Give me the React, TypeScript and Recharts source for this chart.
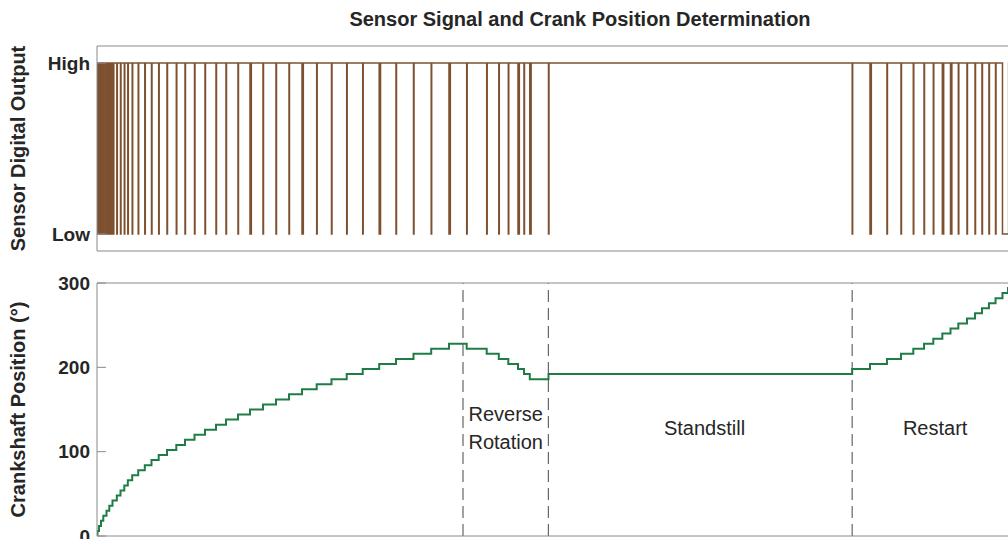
import React from 'react';
import { LineChart, Line, XAxis, YAxis, ReferenceLine, ReferenceDot } from 'recharts';

// ---- data (time in ms) ----
const timeDomain: [number, number] = [0, 750];
const timeTicksMs = [0, 100, 200, 300, 400, 500, 600, 700];

const sensorTickValues = [0, 1];
const sensorTickLabels = ['Low', 'High'];
const angleTicks = [0, 100, 200, 300];

// falling edge of each sensor pulse (ms) and how long the signal stays Low (ms)
const pulseStartMs = [
  0.25, 2.3, 4.34, 6.39, 8.44, 10.49, 12.54, 16.23, 19.26, 22.38,
  25.25, 28.85, 33.77, 39.18, 44.67, 50.57, 57.38, 65.0, 72.13, 79.92,
  88.52, 97.54, 105.74, 115.57, 125.41, 136.07, 146.72, 157.38, 168.03, 180.08,
  192.21, 204.67, 217.79, 231.31, 245.08, 259.43, 273.93, 288.52, 303.03, 319.43,
  329.34, 337.13, 345.08, 350.0, 354.75, 370.08, 619.0, 633.6, 647.5, 659.0,
  669.1, 677.9, 685.5, 692.9, 699.6, 706.0, 713.1, 719.7, 725.4, 731.1,
  736.5, 742.2,
];
const pulseWidthMs = [
  1.25, 1.25, 1.25, 1.25, 1.25, 1.25, 1.25, 0.4, 0.4, 0.4,
  0.4, 0.4, 0.4, 0.4, 0.4, 0.4, 0.4, 0.4, 0.4, 0.4,
  0.4, 0.4, 0.4, 0.4, 1.1, 0.4, 0.4, 0.4, 1.1, 0.4,
  0.4, 0.4, 0.4, 1.1, 0.4, 0.4, 0.4, 1.1, 0.4, 0.4,
  0.4, 0.4, 1.1, 0.4, 1.1, 0.4, 0.4, 1.1, 0.4, 0.4,
  0.4, 0.4, 0.4, 1.1, 1.1, 0.4, 0.4, 0.4, 0.4, 0.4,
  0.4, 5.0,
];

// crankshaft position staircase
const stepTimesMs = [
  0, 0.41, 1.64, 3.28, 5.16, 7.79, 10.08, 12.7, 16.23, 19.26,
  22.38, 25.25, 28.85, 33.77, 39.18, 44.67, 50.57, 57.38, 65.0, 72.13,
  79.92, 88.52, 97.54, 105.74, 115.57, 125.41, 136.07, 146.72, 157.38, 168.03,
  180.08, 192.21, 204.67, 217.79, 231.31, 245.08, 259.43, 273.93, 288.52, 303.03,
  319.43, 329.34, 337.13, 345.08, 350.0, 354.75, 370.08, 619.0, 633.6, 647.5,
  659.0, 669.1, 677.9, 685.5, 692.9, 699.6, 706.0, 713.1, 719.7, 725.4,
  731.1, 736.5, 742.2, 746.7, 750,
];
const stepAngleDeg = [
  0, 6, 12, 18, 24, 30, 36, 42, 48, 54,
  60, 66, 72, 78, 84, 90, 96, 102, 108, 114,
  120, 126, 132, 138, 144, 150, 156, 162, 168, 174,
  180, 186, 192, 198, 204, 210, 216, 222, 228, 222,
  216, 210, 204, 198, 192, 186, 192, 198, 204, 210,
  216, 222, 228, 234, 240, 246, 252, 258, 264, 270,
  276, 282, 288, 294, 294,
];

const phaseBoundaryMs = [300, 370, 619];
const phaseLabelText = [['Reverse', 'Rotation'], ['Standstill'], ['Restart']];
const phaseLabelMs = [335, 498, 687];
const phaseLabelDeg = [128, 128, 128];

const titleText = 'Sensor Signal and Crank Position Determination';
const sensorAxisTitle = 'Sensor Digital Output';
const angleAxisTitle = 'Crankshaft Position (°)';

// ---- derived tables ----
const sensorData: { t: number; v: number }[] = [{ t: timeDomain[0], v: 1 }];
pulseStartMs.forEach((s, i) => {
  const e = s + pulseWidthMs[i];
  sensorData.push({ t: s, v: 1 }, { t: s, v: 0 }, { t: e, v: 0 }, { t: e, v: 1 });
});
sensorData.push({ t: timeDomain[1], v: 1 });

const angleData = stepTimesMs.map((t, i) => ({ t, deg: stepAngleDeg[i] }));

// ---- styles ----
const FONT = '"Liberation Sans", Arial, Helvetica, sans-serif';
const AXIS = '#8a8a8a';
const TEXT = '#262626';
const BROWN = '#7d5130';
const GREEN = '#1e7d46';
const TICK = { fill: TEXT, fontSize: 19, fontWeight: 'bold', fontFamily: FONT };

const axisTitle = (text: string) => (props: any) => {
  const vb = props.viewBox || {};
  const x = (vb.x || 0) + 18;
  const y = (vb.y || 0) + (vb.height || 0) / 2;
  return (
    <text
      x={x}
      y={y}
      transform={`rotate(-90, ${x}, ${y})`}
      textAnchor="middle"
      dominantBaseline="central"
      fontSize={20}
      fontWeight="bold"
      fill={TEXT}
      fontFamily={FONT}
    >
      {text}
    </text>
  );
};

const phaseShape = (lines: string[]) => (props: any) => {
  const { cx, cy } = props;
  const lh = 28;
  return (
    <text x={cx} y={cy} textAnchor="middle" fontSize={20} fill={TEXT} fontFamily={FONT}>
      {lines.map((ln, i) => (
        <tspan key={i} x={cx} y={cy - ((lines.length - 1) * lh) / 2 + i * lh} dy="0.35em">
          {ln}
        </tspan>
      ))}
    </text>
  );
};

export default function App() {
  return (
    <div
      style={{
        position: 'absolute',
        left: 0,
        top: 0,
        width: 1008,
        height: 539,
        overflow: 'hidden',
        background: '#fff',
        fontFamily: FONT,
      }}
    >
      <div
        style={{
          position: 'absolute',
          left: 280,
          top: 8,
          width: 600,
          textAlign: 'center',
          fontSize: 20,
          lineHeight: '22px',
          fontWeight: 'bold',
          color: TEXT,
        }}
      >
        {titleText}
      </div>

      <div style={{ position: 'absolute', left: 0, top: 0 }}>
        <LineChart width={1013} height={260} data={sensorData} margin={{ top: 45, right: 0, bottom: 8, left: 0 }}>
          <XAxis xAxisId="b" type="number" dataKey="t" domain={timeDomain} ticks={timeTicksMs} tick={false}
            tickSize={-9} height={1} stroke={AXIS} allowDataOverflow />
          <XAxis xAxisId="t" orientation="top" type="number" dataKey="t" domain={timeDomain} ticks={timeTicksMs}
            tick={false} tickSize={-9} height={1} stroke={AXIS} allowDataOverflow />
          <YAxis yAxisId="l" type="number" domain={[-0.1, 1.1]} ticks={sensorTickValues}
            tickFormatter={(v: number) => sensorTickLabels[sensorTickValues.indexOf(v)]}
            width={97} tickSize={-9} tickMargin={16} stroke={AXIS} tick={TICK}
            label={axisTitle(sensorAxisTitle)} allowDataOverflow />
          <YAxis yAxisId="r" orientation="right" type="number" domain={[-0.1, 1.1]} ticks={sensorTickValues}
            tick={false} tickSize={-9} width={1} stroke={AXIS} allowDataOverflow />
          <Line xAxisId="b" yAxisId="l" dataKey="v" type="linear" stroke={BROWN} strokeWidth={1.5}
            dot={false} isAnimationActive={false} />
        </LineChart>
      </div>

      <div style={{ position: 'absolute', left: 0, top: 270 }}>
        <LineChart width={1013} height={280} data={angleData} margin={{ top: 12, right: 0, bottom: 13, left: 0 }}>
          <XAxis xAxisId="b" type="number" dataKey="t" domain={timeDomain} ticks={timeTicksMs} tick={false}
            tickSize={-9} height={1} stroke={AXIS} allowDataOverflow />
          <XAxis xAxisId="t" orientation="top" type="number" dataKey="t" domain={timeDomain} ticks={timeTicksMs}
            tick={false} tickSize={-9} height={1} stroke={AXIS} allowDataOverflow />
          <YAxis yAxisId="l" type="number" domain={[0, 300]} ticks={angleTicks} width={97} tickSize={-9}
            tickMargin={16} stroke={AXIS} tick={TICK} label={axisTitle(angleAxisTitle)} allowDataOverflow />
          <YAxis yAxisId="r" orientation="right" type="number" domain={[0, 300]} ticks={angleTicks}
            tick={false} tickSize={-9} width={1} stroke={AXIS} allowDataOverflow />
          {phaseBoundaryMs.map((x, i) => (
            <ReferenceLine key={'b' + i} xAxisId="b" yAxisId="l" x={x} stroke="#666" strokeWidth={1.2}
              strokeDasharray="12 6" />
          ))}
          <Line xAxisId="b" yAxisId="l" dataKey="deg" type="stepAfter" stroke={GREEN} strokeWidth={2}
            dot={false} isAnimationActive={false} />
          {phaseLabelText.map((lines, i) => (
            <ReferenceDot key={'p' + i} xAxisId="b" yAxisId="l" x={phaseLabelMs[i]} y={phaseLabelDeg[i]} r={0}
              shape={phaseShape(lines)} />
          ))}
        </LineChart>
      </div>
    </div>
  );
}
